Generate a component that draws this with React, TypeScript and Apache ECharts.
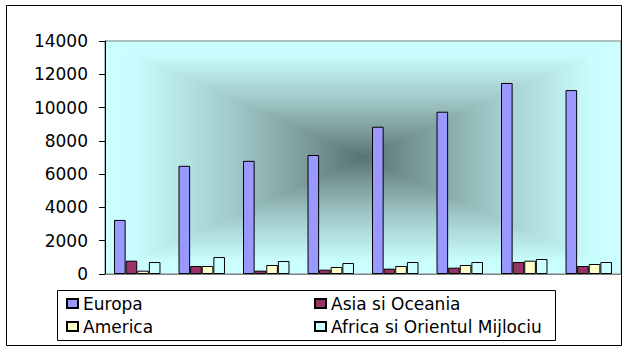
import React, { useEffect, useRef } from "react";
import * as echarts from "echarts";

const categories = ["1", "2", "3", "4", "5", "6", "7", "8"];
const seriesNames = ["Europa", "Asia si Oceania", "America", "Africa si Orientul Mijlociu"];
const europa = [3250, 6500, 6800, 7150, 8850, 9750, 11480, 11050];
const asia = [800, 480, 200, 260, 320, 380, 720, 480];
const america = [200, 480, 540, 420, 480, 540, 800, 600];
const africa = [720, 1020, 780, 660, 720, 720, 900, 720];
const yTicks = { min: 0, max: 14000, interval: 2000 };

const colors = ["#9999FF", "#993366", "#FFFFCC", "#CCFFFF"];

const W = 631;
const H = 352;
const GRID = { left: 105, right: 10, top: 41, bottom: 78 };
const FONT = "DejaVu Sans";

export default function App() {
  const ref = useRef<HTMLDivElement>(null);
  useEffect(() => {
    if (!ref.current) return;
    const chart = echarts.init(ref.current, null, { renderer: "svg" });
    const L = GRID.left;
    const T = GRID.top;
    const R = W - GRID.right;
    const B = H - GRID.bottom;
    const cx = (L + R) / 2;
    const cy = (T + B) / 2;
    const stops = [
      { offset: 0, color: "#CCFFFF" },
      { offset: 0.12, color: "#C9FCFC" },
      { offset: 0.5, color: "#A0C8C8" },
      { offset: 0.8, color: "#789797" },
      { offset: 1, color: "#577373" },
    ];
    const grad = (x: number, y: number, x2: number, y2: number) => ({
      type: "linear",
      x,
      y,
      x2,
      y2,
      colorStops: stops,
      global: false,
    });
    const tri = (pts: number[][], g: any) => ({
      type: "polygon",
      z: -10,
      shape: { points: pts },
      style: { fill: g, stroke: g, lineWidth: 1.2 },
    });
    const seriesData = [europa, asia, america, africa];
    const legendPos = [
      { left: 66, top: 295 },
      { left: 314, top: 295 },
      { left: 66, top: 318 },
      { left: 314, top: 318 },
    ];
    chart.setOption({
      animation: false,
      backgroundColor: "#FFFFFF",
      grid: {
        left: GRID.left,
        right: GRID.right,
        top: GRID.top,
        bottom: GRID.bottom,
        show: true,
        borderColor: "#808080",
        borderWidth: 1,
        backgroundColor: "transparent",
      },
      legend: seriesNames.map((n, i) => ({
        data: [n],
        left: legendPos[i].left,
        top: legendPos[i].top,
        padding: 0,
        orient: "vertical",
        itemWidth: 11,
        itemHeight: 9,
        selectedMode: false,
        icon: "rect",
        textStyle: { fontFamily: FONT, fontSize: 17, color: "#000", lineHeight: 17 },
      })),
      xAxis: {
        type: "category",
        data: categories,
        axisLine: { lineStyle: { color: "#808080", width: 1 } },
        axisTick: { show: false },
        axisLabel: { show: false },
      },
      yAxis: {
        type: "value",
        min: yTicks.min,
        max: yTicks.max,
        interval: yTicks.interval,
        axisLine: { show: true, lineStyle: { color: "#000", width: 1 } },
        axisTick: { show: true, length: 6, lineStyle: { color: "#000" } },
        splitLine: { show: false },
        axisLabel: {
          fontFamily: FONT,
          fontSize: 17,
          color: "#000",
          margin: 17,
          formatter: (v: number) => String(v),
        },
      },
      series: seriesNames.map((n, i) => ({
        name: n,
        type: "bar",
        data: seriesData[i],
        barGap: "0%",
        barCategoryGap: "28%",
        itemStyle: { color: colors[i], borderColor: "#000", borderWidth: 1 },
      })),
      graphic: [
        tri([[L, T], [R, T], [cx, cy]], grad(0, 0, 0, 1)),
        tri([[L, B], [R, B], [cx, cy]], grad(0, 1, 0, 0)),
        tri([[L, T], [L, B], [cx, cy]], grad(0, 0, 1, 0)),
        tri([[R, T], [R, B], [cx, cy]], grad(1, 0, 0, 0)),
        {
          type: "rect",
          shape: { x: 57.5, y: 290.5, width: 498, height: 50 },
          style: { fill: "none", stroke: "#000", lineWidth: 1 },
        },
        {
          type: "rect",
          shape: { x: 6.5, y: 5.5, width: 615, height: 340 },
          style: { fill: "none", stroke: "#000", lineWidth: 1 },
        },
      ],
    });
    return () => chart.dispose();
  }, []);
  return (
    <div
      ref={ref}
      style={{ position: "fixed", left: 0, top: 0, width: W, height: H }}
    />
  );
}
